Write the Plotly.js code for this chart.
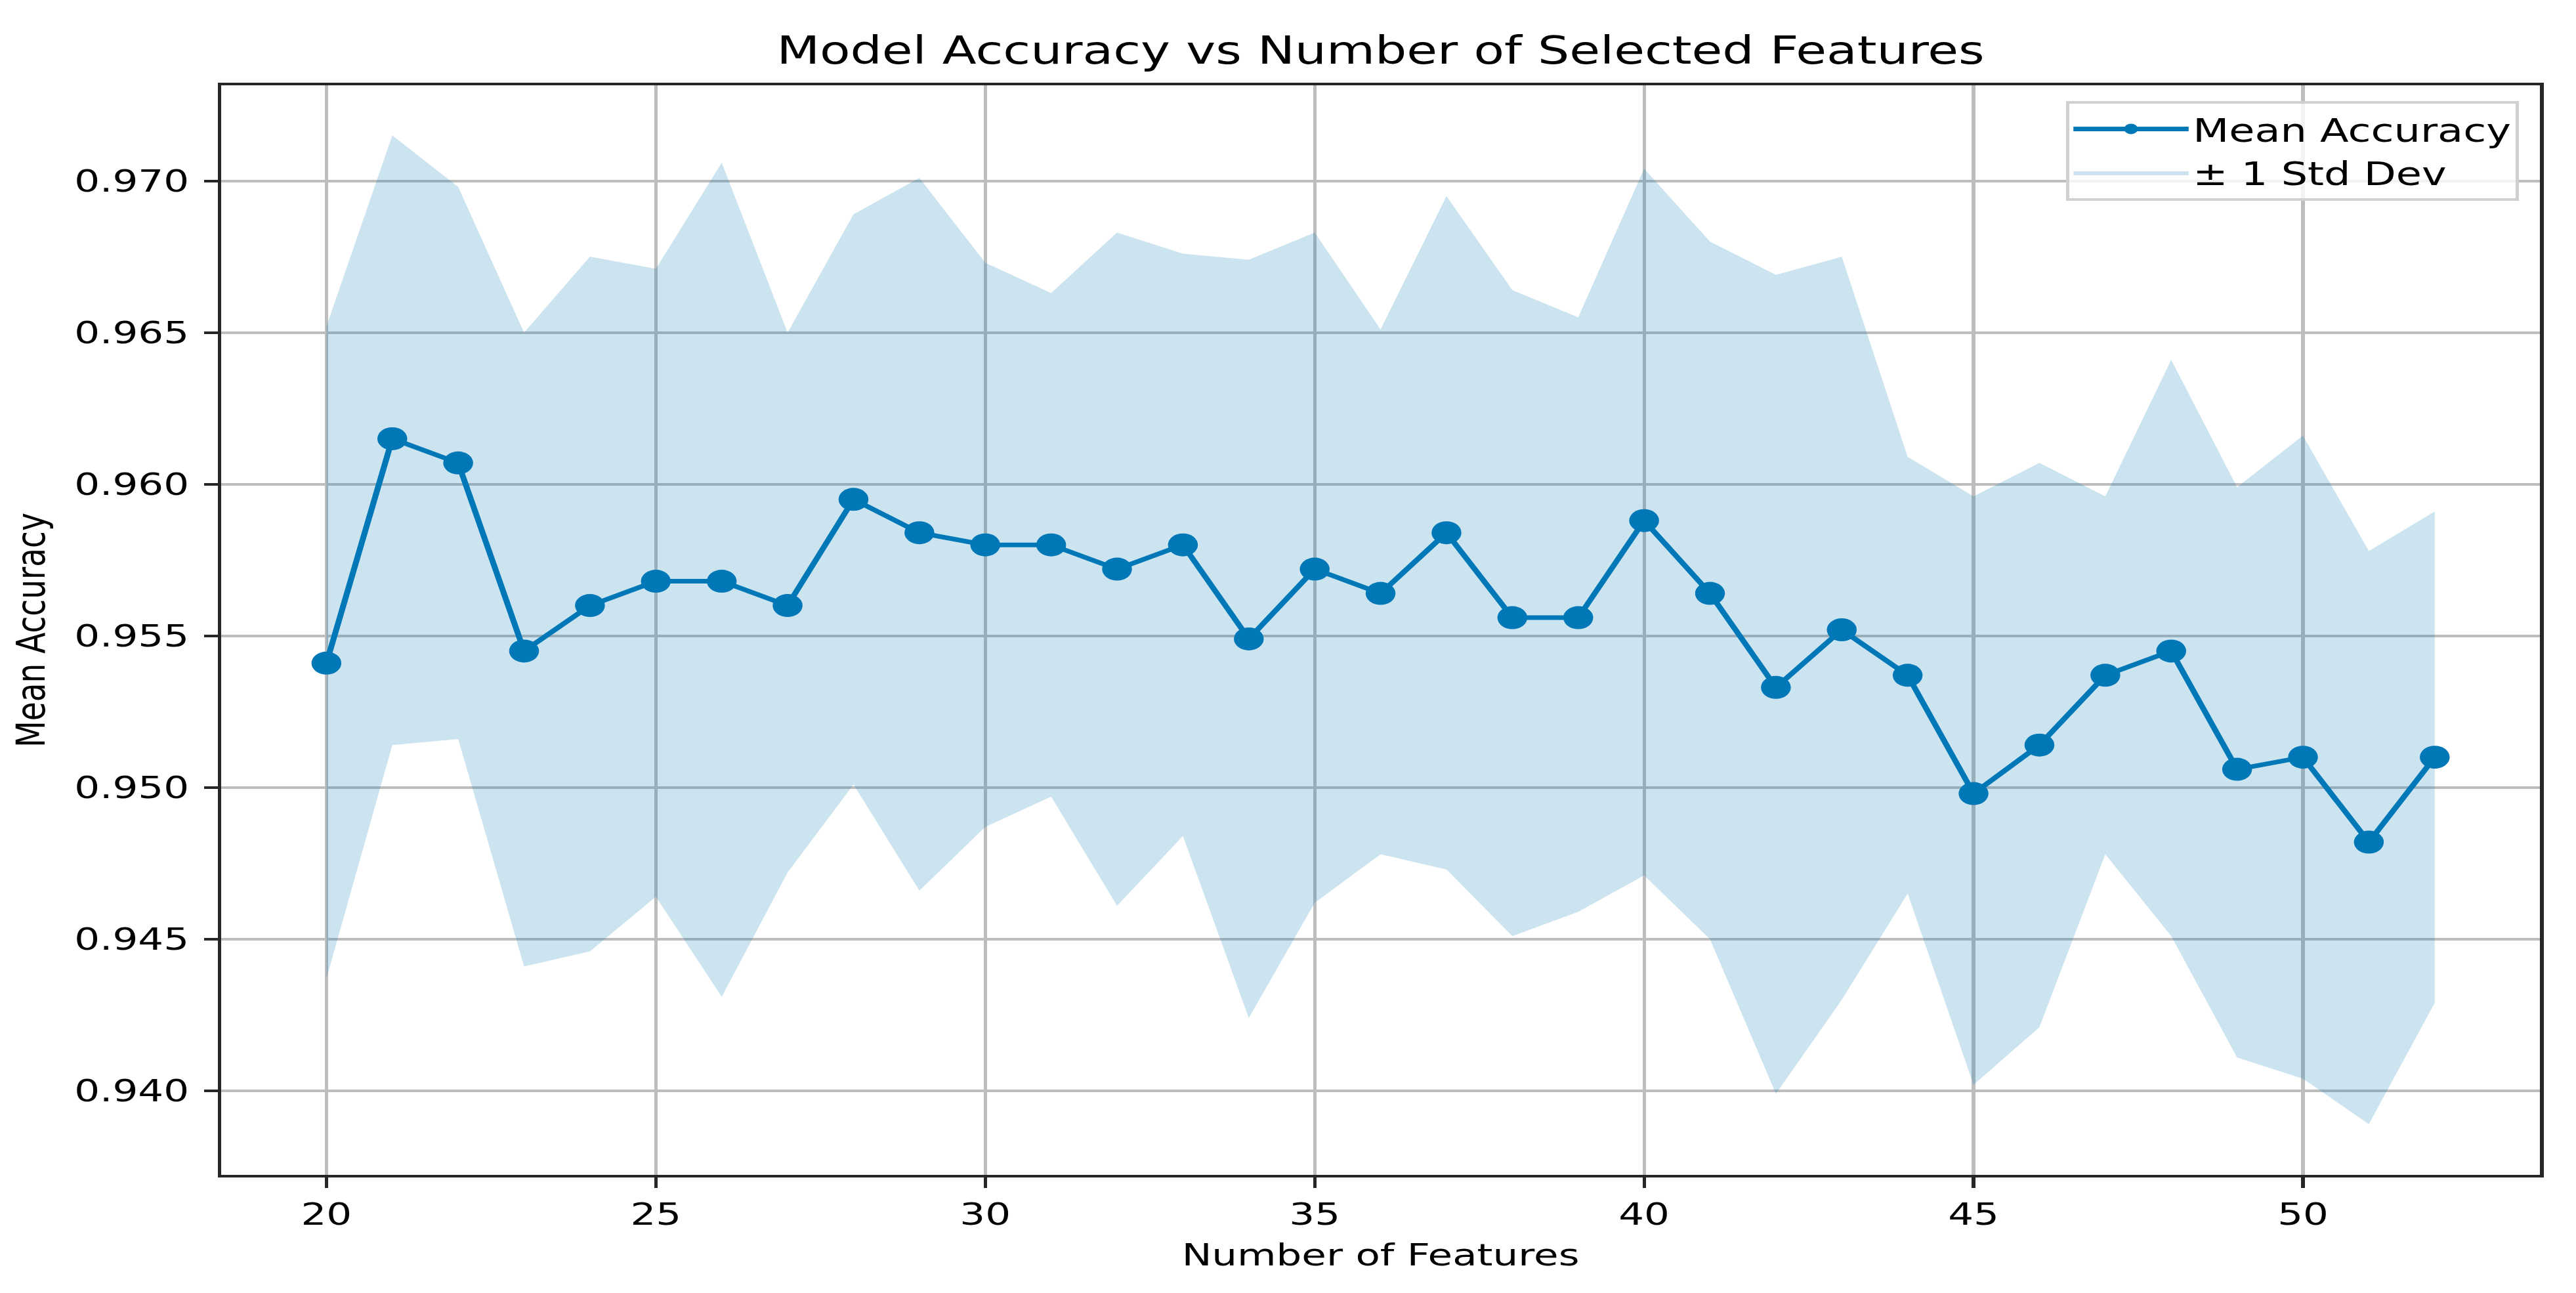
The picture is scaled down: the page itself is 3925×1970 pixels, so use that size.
<!DOCTYPE html>
<html>
<head>
<meta charset="utf-8">
<script src="https://cdn.plot.ly/plotly-3.0.1.min.js"></script>
<style>
  html, body { margin: 0; padding: 0; background: #ffffff; overflow: hidden; }
  #wrap { width: 3925px; height: 1970px; overflow: hidden; }
  #chart { width: 3019px; height: 1970px; transform: scaleX(1.30010); transform-origin: 0 0; }
</style>
</head>
<body>
<div id="wrap"><div id="chart"></div></div>
<script>
// Number of selected features
const numFeatures = [20, 21, 22, 23, 24, 25, 26, 27, 28, 29, 30, 31, 32, 33, 34, 35, 36,
                     37, 38, 39, 40, 41, 42, 43, 44, 45, 46, 47, 48, 49, 50, 51, 52];

// Mean cross-validated accuracy
const meanAccuracy = [0.9541, 0.9615, 0.9607, 0.9545, 0.9560, 0.9568, 0.9568, 0.9560, 0.9595,
                      0.9584, 0.9580, 0.9580, 0.9572, 0.9580, 0.9549, 0.9572, 0.9564, 0.9584,
                      0.9556, 0.9556, 0.9588, 0.9564, 0.9533, 0.9552, 0.9537, 0.9498, 0.9514,
                      0.9537, 0.9545, 0.9506, 0.9510, 0.9482, 0.9510];

// Upper edge of the band (mean + 1 std)
const upperBand = [0.9652, 0.9715, 0.9698, 0.9650, 0.9675, 0.9671, 0.9706, 0.9650, 0.9689,
                   0.9701, 0.9673, 0.9663, 0.9683, 0.9676, 0.9674, 0.9683, 0.9651, 0.9695,
                   0.9664, 0.9655, 0.9704, 0.9680, 0.9669, 0.9675, 0.9609, 0.9596, 0.9607,
                   0.9596, 0.9641, 0.9599, 0.9616, 0.9578, 0.9591];

// Lower edge of the band (mean - 1 std)
const lowerBand = [0.9437, 0.9514, 0.9516, 0.9441, 0.9446, 0.9464, 0.9431, 0.9472, 0.9501,
                   0.9466, 0.9487, 0.9497, 0.9461, 0.9484, 0.9424, 0.9462, 0.9478, 0.9473,
                   0.9451, 0.9459, 0.9471, 0.9450, 0.9399, 0.9430, 0.9465, 0.9402, 0.9421,
                   0.9478, 0.9451, 0.9411, 0.9404, 0.9389, 0.9429];

const lineColor = '#0077b6';
const bandColor = 'rgba(0,119,182,0.2)';
const fontFamily = '"DejaVu Sans", Verdana, sans-serif';

const traces = [
  {
    x: numFeatures, y: lowerBand, type: 'scatter', mode: 'lines',
    line: { width: 0, color: bandColor }, showlegend: false, hoverinfo: 'skip'
  },
  {
    x: numFeatures, y: upperBand, type: 'scatter', mode: 'lines',
    fill: 'tonexty', fillcolor: bandColor,
    line: { width: 0, color: bandColor },
    name: '± 1 Std Dev', legendrank: 2, hoverinfo: 'skip'
  },
  {
    x: numFeatures, y: meanAccuracy, type: 'scatter', mode: 'lines+markers',
    line: { color: lineColor, width: 7 },
    marker: { color: lineColor, size: 35 },
    name: 'Mean Accuracy', legendrank: 1
  }
];

const axisCommon = {
  showline: true, mirror: true, linecolor: '#262626', linewidth: 4,
  ticks: 'outside', ticklen: 16, tickwidth: 4, tickcolor: '#262626',
  showgrid: true, gridcolor: '#bdbdbd', gridwidth: 4,
  zeroline: false,
  tickfont: { family: fontFamily, size: 47, color: '#000000' }
};

const layout = {
  width: 3019, height: 1970,
  paper_bgcolor: '#ffffff', plot_bgcolor: '#ffffff',
  margin: { l: 259, r: 42, t: 130, b: 180 },
  font: { family: fontFamily, color: '#000000' },
  title: {
    text: 'Model Accuracy vs Number of Selected Features',
    font: { family: fontFamily, size: 58.5, color: '#000000' },
    x: 0.5, xref: 'paper', xanchor: 'center',
    y: 1, yref: 'paper', yanchor: 'bottom', pad: { b: 33 }
  },
  xaxis: Object.assign({}, axisCommon, {
    range: [18.4, 53.6], tickmode: 'linear', tick0: 20, dtick: 5,
    title: { text: 'Number of Features', font: { family: fontFamily, size: 47, color: '#000000' }, standoff: 20 }
  }),
  yaxis: Object.assign({}, axisCommon, {
    range: [0.93723, 0.97315], tickmode: 'linear', tick0: 0.94, dtick: 0.005, tickformat: '.3f',
    ticklabelstandoff: 8,
    title: { text: 'Mean Accuracy', font: { family: fontFamily, size: 47, color: '#000000' }, standoff: 20 }
  }),
  legend: {
    x: 0.9908, xanchor: 'right', y: 0.9855, yanchor: 'top',
    bgcolor: 'rgba(255,255,255,0.8)', bordercolor: '#d0d0d0', borderwidth: 4,
    font: { family: fontFamily, size: 49, color: '#000000' },
    itemwidth: 135, traceorder: 'normal'
  },
  showlegend: true
};

Plotly.newPlot('chart', traces, layout, { staticPlot: true, displayModeBar: false });
</script>
</body>
</html>
